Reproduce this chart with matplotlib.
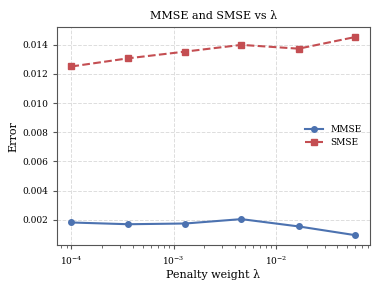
import numpy as np
import matplotlib
matplotlib.use("Agg")
import matplotlib.pyplot as plt

# Data ========================================================================
lam = [1e-4, 3.6e-4, 1.3e-3, 4.6e-3, 1.67e-2, 6.0e-2]
mmse = [0.00182, 0.00170, 0.00175, 0.00205, 0.00155, 0.00095]
smse = [0.01250, 0.01306, 0.01352, 0.01398, 0.01372, 0.01452]

# Plot ========================================================================
plt.rcParams["font.family"] = "DejaVu Serif"
plt.rcParams["mathtext.fontset"] = "dejavuserif"

fig, ax = plt.subplots(figsize=(3.81, 2.85), dpi=100)
ax.plot(lam, mmse, "-o", color="#4C72B0", lw=1.5, ms=4, label="MMSE")
ax.plot(lam, smse, "--s", color="#C44E52", lw=1.5, ms=4, label="SMSE")
ax.set_xscale("log")
ax.set_title("MMSE and SMSE vs λ", fontsize=8)
ax.set_xlabel("Penalty weight λ", fontsize=8, labelpad=2)
ax.set_ylabel("Error", fontsize=8, labelpad=3)
ax.tick_params(labelsize=6.5, length=3, color="#555555")
ax.tick_params(which="minor", length=2, color="#555555")
ax.grid(True, which="major", ls="--", color="#dddddd", lw=0.7)
for s in ax.spines.values():
    s.set_color("#555555")
ax.legend(loc="center right", frameon=False, fontsize=6.5, handlelength=2)
fig.subplots_adjust(left=0.15, right=0.97, top=0.905, bottom=0.14)
fig.savefig("out.png", dpi=100)
